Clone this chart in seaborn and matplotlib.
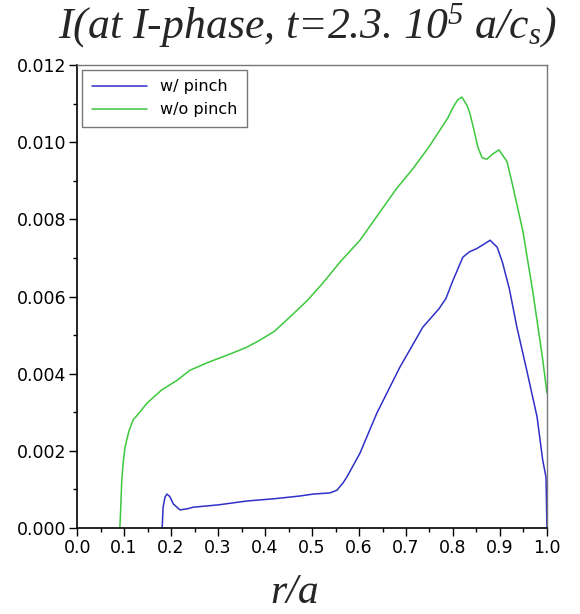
import numpy as np
import pandas as pd
import matplotlib
matplotlib.use("Agg")
import matplotlib.pyplot as plt
import seaborn as sns
from matplotlib.ticker import MultipleLocator

# current profile I(r/a) at the I-phase
r_pinch = [0.181, 0.183, 0.187, 0.191, 0.197, 0.205, 0.219, 0.235, 0.247, 0.300,
           0.361, 0.420, 0.474, 0.502, 0.538, 0.553, 0.566, 0.574, 0.602, 0.638,
           0.687, 0.736, 0.770, 0.785, 0.800, 0.821, 0.835, 0.850, 0.865, 0.879,
           0.894, 0.905, 0.920, 0.936, 0.957, 0.979, 0.991, 0.998, 1.000]
i_pinch = [0.0, 0.00054, 0.0008, 0.00088, 0.00082, 0.00062, 0.00047, 0.0005, 0.00054, 0.0006,
           0.0007, 0.00076, 0.00083, 0.00088, 0.00091, 0.00098, 0.00117, 0.00132, 0.00194, 0.00298,
           0.00417, 0.00521, 0.00568, 0.00595, 0.00642, 0.00702, 0.00716, 0.00724, 0.00735, 0.00746,
           0.00728, 0.00690, 0.00620, 0.00521, 0.00409, 0.00288, 0.00176, 0.00132, 0.0]

r_nopinch = [0.091, 0.093, 0.095, 0.098, 0.102, 0.110, 0.119, 0.133, 0.149, 0.180,
             0.213, 0.240, 0.280, 0.319, 0.360, 0.389, 0.420, 0.453, 0.490, 0.523,
             0.560, 0.602, 0.645, 0.680, 0.715, 0.750, 0.789, 0.800, 0.810, 0.819,
             0.830, 0.836, 0.845, 0.853, 0.862, 0.872, 0.885, 0.898, 0.915, 0.928,
             0.949, 0.970, 0.991, 1.000]
i_nopinch = [0.0, 0.0006, 0.00124, 0.0017, 0.0021, 0.0025, 0.0028, 0.0030, 0.00324, 0.00358,
             0.00383, 0.00409, 0.0043, 0.00448, 0.00468, 0.00487, 0.0051, 0.00547, 0.0059, 0.00635,
             0.0069, 0.00746, 0.0082, 0.0088, 0.00932, 0.0099, 0.01063, 0.0109, 0.0111, 0.01117,
             0.01095, 0.01075, 0.0103, 0.00987, 0.0096, 0.00956, 0.0097, 0.0098, 0.0095, 0.00883,
             0.00768, 0.00612, 0.00437, 0.0035]

labels = ["w/ pinch", "w/o pinch"]
colors = {"w/ pinch": "#3030c8", "w/o pinch": "#3cc83c"}

df = pd.concat([
    pd.DataFrame({"r": r_pinch, "I": i_pinch, "case": labels[0]}),
    pd.DataFrame({"r": r_nopinch, "I": i_nopinch, "case": labels[1]}),
])

sns.set_style("ticks")
plt.rcParams["font.family"] = ["DejaVu Sans"]
plt.rcParams["mathtext.fontset"] = "custom"
plt.rcParams["mathtext.rm"] = "Liberation Serif:italic"
plt.rcParams["mathtext.it"] = "Liberation Serif:italic"

fig = plt.figure(figsize=(5.8, 6.14), dpi=100)
ax = fig.add_axes([0.133, 0.140, 0.810, 0.754])

sns.lineplot(data=df, x="r", y="I", hue="case", palette=colors, sort=False,
             estimator=None, linewidth=1.1, ax=ax)

ax.set_xlim(0, 1.0)
ax.set_ylim(0, 0.012)
ax.xaxis.set_major_locator(MultipleLocator(0.1))
ax.xaxis.set_minor_locator(MultipleLocator(0.05))
ax.yaxis.set_major_locator(MultipleLocator(0.002))
ax.yaxis.set_minor_locator(MultipleLocator(0.001))
ax.xaxis.set_major_formatter(lambda v, p: f"{v:.1f}")
ax.yaxis.set_major_formatter(lambda v, p: f"{v:.3f}")
ax.tick_params(which="major", direction="out", length=6, width=1, labelsize=12.5,
               pad=2, colors="black")
ax.tick_params(which="minor", direction="out", length=3, width=1, colors="black")

for s in ["top", "right"]:
    ax.spines[s].set_color("#777777")
    ax.spines[s].set_linewidth(1.0)
for s in ["left", "bottom"]:
    ax.spines[s].set_color("black")
    ax.spines[s].set_linewidth(1.2)

ax.set_xlabel("")
ax.set_ylabel("")
leg = ax.legend(loc="upper left", fontsize=11.5, frameon=True, fancybox=False,
                handlelength=3.5, borderaxespad=0.3, borderpad=0.6, labelspacing=0.5)
leg.get_frame().set_edgecolor("#555555")
leg.get_frame().set_linewidth(1.0)
for t in leg.get_texts():
    t.set_color("black")

fig.text(0.53, 0.938, r"I(at I-phase, t=2.3. 10$^5$ a/c$_s$)", ha="center", va="baseline",
         fontsize=31.5, family="Liberation Serif", style="italic")
fig.text(0.508, 0.004, "r/a", ha="center", va="bottom",
         fontsize=30, family="Liberation Serif", style="italic")

fig.savefig("out.png", dpi=100)
